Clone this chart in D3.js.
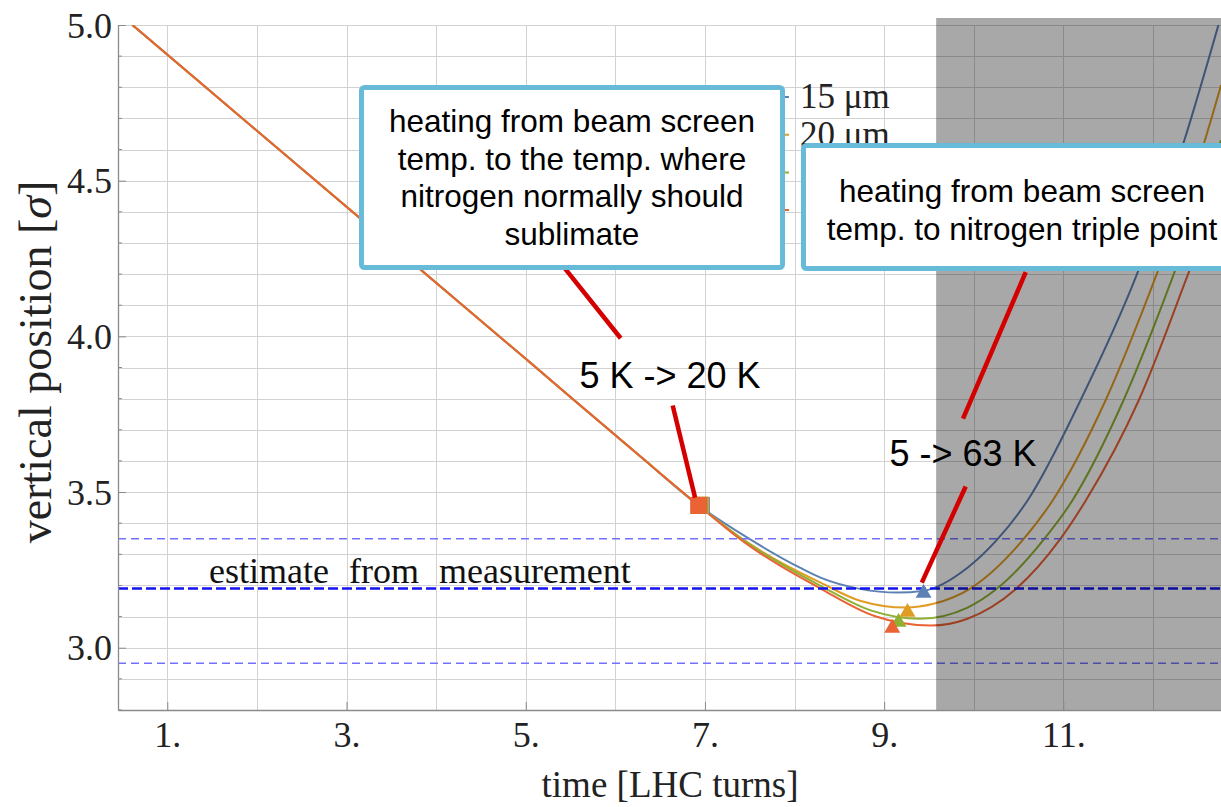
<!DOCTYPE html>
<html>
<head>
<meta charset="utf-8">
<script src="https://cdn.jsdelivr.net/npm/d3@7"></script>
<style>
  html, body { margin: 0; padding: 0; background: #fff; }
  svg { display: block; }
</style>
</head>
<body>
<div id="chart"></div>
<script>
// ---- data ----
const xTicks = [1, 3, 5, 7, 9, 11];
const xTickLabels = ["1.", "3.", "5.", "7.", "9.", "11."];
const xGrid = [1, 2, 3, 4, 5, 6, 7, 8, 9, 10, 11, 12];
const yTicks = [3.0, 3.5, 4.0, 4.5, 5.0];
const yTickLabels = ["3.0", "3.5", "4.0", "4.5", "5.0"];

const seriesNames = ["15 μm", "20 μm", "25 μm", "30 μm"];
const seriesColors = ["#5e81b5", "#e19c24", "#8fb032", "#eb6235"];

// common straight descent, shared by all four curves
const trunk = [[0.61, 5.0], [3.0, 4.416], [5.0, 3.928], [6.3, 3.609], [6.93, 3.457]];

// each curve after the split
const branch15 = [[7.51, 3.347], [8.06, 3.257], [8.29, 3.225], [8.73, 3.189], [9.15, 3.177], [9.44, 3.183],
  [9.93, 3.257], [10.26, 3.347], [10.60, 3.473], [11.19, 3.794], [11.83, 4.206], [12.34, 4.621], [12.73, 5.0]];
const branch20 = [[7.43, 3.347], [8.29, 3.209], [8.73, 3.151], [9.24, 3.129], [9.55, 3.141], [9.96, 3.190],
  [10.55, 3.347], [10.88, 3.473], [11.47, 3.794], [12.05, 4.206], [12.57, 4.621], [12.76, 4.807]];
const branch25 = [[7.42, 3.347], [8.29, 3.199], [8.85, 3.120], [9.40, 3.093], [9.93, 3.129], [10.26, 3.190],
  [10.78, 3.347], [11.10, 3.473], [11.67, 3.794], [12.24, 4.206], [12.76, 4.630]];
const branch30 = [[7.40, 3.347], [8.29, 3.190], [8.90, 3.101], [9.52, 3.071], [9.93, 3.093], [10.46, 3.186],
  [10.96, 3.347], [11.25, 3.473], [11.84, 3.794], [12.40, 4.206], [12.76, 4.479]];
const branches = [branch15, branch20, branch25, branch30];

// square markers (5 K -> 20 K) and triangle markers (5 -> 63 K)
const squareX = [6.96, 6.95, 6.94, 6.93];
const squareY = [3.457, 3.458, 3.457, 3.457];
const triangleX = [9.44, 9.26, 9.16, 9.09];
const triangleY = [3.180, 3.119, 3.087, 3.068];

// measured estimate and its band
const estimate = 3.19;
const estimateHigh = 3.35;
const estimateLow = 2.95;

// shaded region start
const shadeStart = 9.58;

(() => {
  const W = 1221, H = 807;
  const mLeft = 118, mRight = 1222, mTop = 25, mBottom = 710;
  const serif = "'Liberation Serif', 'Times New Roman', serif";
  const sans = "'Liberation Sans', Arial, sans-serif";

  const svg = d3.select("#chart").append("svg")
    .attr("width", W)
    .attr("height", H);

  const x = d3.scaleLinear().domain([0.45, 12.77]).range([mLeft, mRight]);
  const y = d3.scaleLinear().domain([2.8, 5.0]).range([mBottom, mTop]);

  const defs = svg.append("defs");
  defs.append("clipPath").attr("id", "plotclip")
    .append("rect")
    .attr("x", mLeft).attr("y", mTop)
    .attr("width", mRight - mLeft).attr("height", mBottom - mTop);

  // grid
  const yGrid = d3.range(28, 51).map(d => d / 10);
  const grid = svg.append("g").attr("stroke", "#d2d2d2").attr("stroke-width", 1);
  grid.selectAll("line.h")
    .data(yGrid)
    .join("line")
    .attr("class", "h")
    .attr("x1", mLeft).attr("x2", mRight)
    .attr("y1", d => Math.round(y(d)) + 0.5).attr("y2", d => Math.round(y(d)) + 0.5);
  grid.selectAll("line.v")
    .data(xGrid)
    .join("line")
    .attr("class", "v")
    .attr("y1", mTop).attr("y2", mBottom)
    .attr("x1", d => Math.round(x(d)) + 0.5).attr("x2", d => Math.round(x(d)) + 0.5);

  const plot = svg.append("g").attr("clip-path", "url(#plotclip)");

  // curves (red last so it sits on top of the shared descent)
  const line = d3.line()
    .x(d => x(d[0]))
    .y(d => y(d[1]))
    .curve(d3.curveMonotoneX);

  branches.forEach((b, i) => {
    plot.append("path")
      .attr("d", line(trunk.concat(b)))
      .attr("fill", "none")
      .attr("stroke", seriesColors[i])
      .attr("stroke-width", 2);
  });

  // estimate lines
  const dashed = [
    { v: estimateHigh, color: "#7272ff", w: 1.6, dash: "8,5" },
    { v: estimateLow, color: "#7272ff", w: 1.6, dash: "8,5" },
    { v: estimate, color: "#1414f0", w: 2.6, dash: "10,4" }
  ];
  plot.selectAll("line.est")
    .data(dashed)
    .join("line")
    .attr("class", "est")
    .attr("x1", mLeft).attr("x2", mRight)
    .attr("y1", d => y(d.v)).attr("y2", d => y(d.v))
    .attr("stroke", d => d.color)
    .attr("stroke-width", d => d.w)
    .attr("stroke-dasharray", d => d.dash);

  // markers
  const sq = 17;
  plot.selectAll("rect.sq")
    .data(squareX)
    .join("rect")
    .attr("class", "sq")
    .attr("x", d => x(d) - sq / 2)
    .attr("y", (d, i) => y(squareY[i]) - sq / 2)
    .attr("width", sq).attr("height", sq)
    .attr("fill", (d, i) => seriesColors[i]);

  const tri = d3.symbol().type(d3.symbolTriangle).size(110);
  plot.selectAll("path.tri")
    .data(triangleX)
    .join("path")
    .attr("class", "tri")
    .attr("transform", (d, i) => `translate(${x(d)},${y(triangleY[i]) + 1.5})`)
    .attr("d", tri)
    .attr("fill", (d, i) => seriesColors[i]);

  svg.append("text")
    .attr("x", 209).attr("y", 583)
    .attr("font-family", serif)
    .attr("font-size", 36)
    .attr("word-spacing", 11)
    .attr("fill", "#111")
    .text("estimate from measurement");

  // shaded region over everything in the plot
  svg.append("rect")
    .attr("x", x(shadeStart)).attr("y", mTop - 7)
    .attr("width", mRight - x(shadeStart)).attr("height", mBottom - mTop + 8)
    .attr("fill", "#000")
    .attr("fill-opacity", 0.34);

  // axes
  const xAxis = d3.axisBottom(x)
    .tickValues(xTicks)
    .tickFormat((d, i) => xTickLabels[i])
    .tickSize(-8)
    .tickSizeOuter(0);
  const gx = svg.append("g")
    .attr("transform", `translate(0,${mBottom})`)
    .call(xAxis);
  gx.selectAll("text")
    .attr("y", 37).attr("dy", null)
    .attr("font-family", serif).attr("font-size", 36).attr("fill", "#222");

  const yAxis = d3.axisLeft(y)
    .tickValues(yTicks)
    .tickFormat((d, i) => yTickLabels[i])
    .tickSize(-8)
    .tickSizeOuter(0);
  const gy = svg.append("g")
    .attr("transform", `translate(${mLeft},0)`)
    .call(yAxis);
  gy.selectAll("text")
    .attr("x", -6).attr("dy", "0.34em")
    .attr("font-family", serif).attr("font-size", 36).attr("fill", "#222");

  [gx, gy].forEach(g => {
    g.select(".domain").attr("stroke", "#8a8a8a").attr("stroke-width", 1.3);
    g.selectAll(".tick line").attr("stroke", "#8a8a8a");
  });

  // minor ticks on y
  gy.selectAll("line.minor")
    .data(yGrid.filter(v => Math.round(v * 10) % 5 !== 0))
    .join("line")
    .attr("class", "minor")
    .attr("x1", 0).attr("x2", 4)
    .attr("y1", d => y(d)).attr("y2", d => y(d))
    .attr("stroke", "#8a8a8a");

  // axis titles
  svg.append("text")
    .attr("x", 670).attr("y", 797)
    .attr("text-anchor", "middle")
    .attr("font-family", serif).attr("font-size", 37).attr("fill", "#222")
    .text("time [LHC turns]");

  const ylab = svg.append("text")
    .attr("transform", "translate(51,362) rotate(-90)")
    .attr("text-anchor", "middle")
    .attr("font-family", serif).attr("font-size", 46).attr("fill", "#222");
  ylab.append("tspan").text("vertical position [");
  ylab.append("tspan").attr("font-style", "italic").text("σ");
  ylab.append("tspan").text("]");

  // legend: only its first entries peek out from behind the callouts
  defs.append("clipPath").attr("id", "legendclip")
    .append("rect")
    .attr("x", 700).attr("y", 60).attr("width", 103).attr("height", 200);
  const legend = svg.append("g");
  seriesNames.forEach((name, i) => {
    const by = 108 + i * 37.7;
    legend.append("line")
      .attr("x1", 738).attr("x2", 789)
      .attr("y1", by - 11).attr("y2", by - 11)
      .attr("stroke", seriesColors[i]).attr("stroke-width", 2);
    legend.append("text")
      .attr("x", 800).attr("y", by)
      .attr("font-family", serif).attr("font-size", 35).attr("fill", "#222")
      .attr("clip-path", i > 1 ? "url(#legendclip)" : null)
      .text(name);
  });

  // pointer lines
  const pointers = [
    [[5.41, 4.228], [6.06, 3.994]],
    [[6.64, 3.778], [6.89, 3.482]],
    [[10.58, 4.206], [9.88, 3.736]],
    [[9.91, 3.518], [9.42, 3.209]]
  ];
  svg.selectAll("line.ptr")
    .data(pointers)
    .join("line")
    .attr("class", "ptr")
    .attr("x1", d => x(d[0][0])).attr("y1", d => y(d[0][1]))
    .attr("x2", d => x(d[1][0])).attr("y2", d => y(d[1][1]))
    .attr("stroke", "#d40000")
    .attr("stroke-width", 4.5);

  // callout boxes
  const boxes = [
    { x: 361.5, y: 87.5, w: 421, h: 180, cx: 572, base: 132,
      lines: ["heating from beam screen", "temp. to the temp. where", "nitrogen normally should", "sublimate"] },
    { x: 803.5, y: 145.5, w: 438, h: 123, cx: 1022, base: 202,
      lines: ["heating from beam screen", "temp. to nitrogen triple point"] }
  ];
  boxes.forEach(b => {
    svg.append("rect")
      .attr("x", b.x).attr("y", b.y)
      .attr("width", b.w).attr("height", b.h)
      .attr("rx", 3)
      .attr("fill", "#fff")
      .attr("stroke", "#67bad8")
      .attr("stroke-width", 5);
    b.lines.forEach((t, i) => {
      svg.append("text")
        .attr("x", b.cx).attr("y", b.base + i * 37.7)
        .attr("text-anchor", "middle")
        .attr("font-family", sans).attr("font-size", 31.5).attr("fill", "#000")
        .text(t);
    });
  });

  // temperature labels
  const tempLabels = [
    { x: 6.61, y: 3.833, text: "5 K -> 20 K" },
    { x: 9.88, y: 3.585, text: "5 -> 63 K" }
  ];
  svg.selectAll("text.temp")
    .data(tempLabels)
    .join("text")
    .attr("class", "temp")
    .attr("x", d => x(d.x)).attr("y", d => y(d.y))
    .attr("text-anchor", "middle")
    .attr("font-family", sans).attr("font-size", 36).attr("fill", "#000")
    .text(d => d.text);
})();
</script>
</body>
</html>
